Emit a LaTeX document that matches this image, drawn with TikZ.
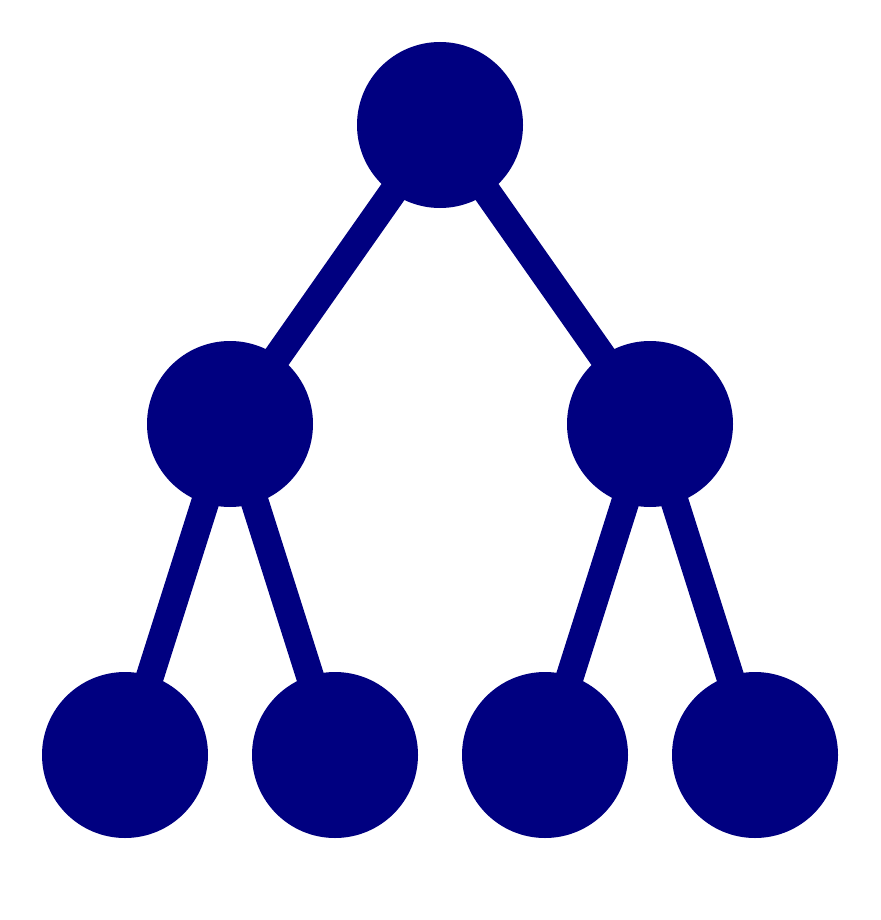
\documentclass[tikz,border=0pt]{standalone}
\usepackage{tikz}
\definecolor{treeblue}{HTML}{000080}
\tikzset{
  knot/.style={circle,fill=treeblue,inner sep=0pt,minimum size=166pt},
  branch/.style={treeblue,line width=28pt}
}
\begin{document}
\begin{tikzpicture}[x=1pt,y=-1pt]
\useasboundingbox (0,0) rectangle (880,920);
\coordinate (R) at (440,125);
\coordinate (L) at (230,424);
\coordinate (Q) at (650,424);
\coordinate (LL) at (125,755);
\coordinate (LR) at (335,755);
\coordinate (QL) at (545,755);
\coordinate (QR) at (755,755);
\draw[branch](R)--(L)(R)--(Q)(L)--(LL)(L)--(LR)(Q)--(QL)(Q)--(QR);
\node[knot] (root) at (R) {};
\node[knot] (left) at (L) {};
\node[knot] (right) at (Q) {};
\node[knot] (leafa) at (LL) {};
\node[knot] (leafb) at (LR) {};
\node[knot] (leafc) at (QL) {};
\node[knot] (leafd) at (QR) {};
\end{tikzpicture}
\end{document}
